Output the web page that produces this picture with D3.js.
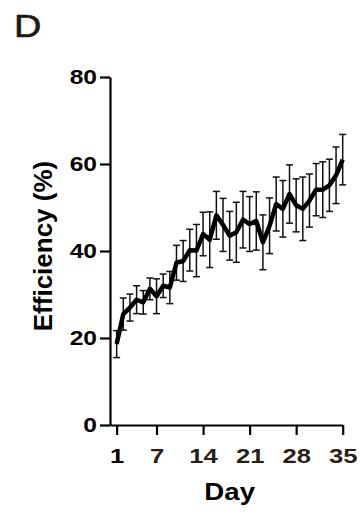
<!DOCTYPE html>
<html>
<head>
<meta charset="utf-8">
<script src="https://cdn.jsdelivr.net/npm/d3@7"></script>
<style>
  html, body { margin: 0; padding: 0; background: #fff; }
  svg { display: block; }
  text { font-family: "Liberation Sans", Arial, sans-serif; }
</style>
</head>
<body>
<script>
const days = d3.range(1, 36);
const efficiencyMean = [18.6, 25.5, 27.0, 28.8, 28.2, 31.3, 29.6, 32.0, 31.6, 37.3,
  37.7, 40.2, 40.1, 43.9, 42.6, 48.2, 46.0, 43.5, 44.3, 47.2,
  46.2, 46.9, 42.0, 45.8, 50.8, 49.7, 53.1, 50.5, 49.7, 51.6,
  54.1, 54.1, 55.1, 57.4, 61.0];
const efficiencyErr = [3.1, 3.7, 3.1, 3.2, 2.7, 2.5, 4.0, 2.7, 3.7, 4.0,
  4.7, 4.8, 6.0, 5.0, 6.4, 5.5, 6.1, 5.6, 6.9, 6.5,
  6.3, 6.7, 6.3, 6.4, 6.2, 6.5, 6.7, 6.1, 7.3, 6.1,
  6.0, 6.4, 6.0, 6.5, 5.8];
const xTicks = [1, 7, 14, 21, 28, 35];
const yTicks = [0, 20, 40, 60, 80];
const panelLabel = "D";
const xTitle = "Day";
const yTitle = "Efficiency (%)";

const W = 361, H = 512;
const svg = d3.select("body").append("svg").attr("width", W).attr("height", H);

const x = d3.scaleLinear().domain([0, 35]).range([110, 342.7]);
const y = d3.scaleLinear().domain([0, 80]).range([425, 77]);

const data = days.map((d, i) => ({ day: d, mean: efficiencyMean[i], err: efficiencyErr[i] }));

// Axes
const yAxis = svg.append("g").attr("transform", `translate(${x(0)},0)`)
  .call(d3.axisLeft(y).tickValues(yTicks).tickSize(10).tickPadding(3).tickSizeOuter(0));
const xAxis = svg.append("g").attr("transform", `translate(0,${y(0)})`)
  .call(d3.axisBottom(x).tickValues(xTicks).tickSize(10).tickPadding(4).tickSizeOuter(0));

[xAxis, yAxis].forEach(g => {
  g.select(".domain").attr("stroke", "#000").attr("stroke-width", 2.2);
  g.selectAll(".tick line").attr("stroke", "#000").attr("stroke-width", 2.2);
  g.selectAll("text").attr("fill", "#000").attr("font-size", 20.5).attr("font-weight", "bold")
    .attr("font-family", "'Liberation Sans', Arial, sans-serif");
});
// horizontally widen tick labels like the reference
yAxis.selectAll(".tick text").each(function() {
  const t = d3.select(this);
  const xx = +t.attr("x");
  t.attr("x", null).attr("transform", `translate(${xx},0) scale(1.2,1)`);
});
xAxis.selectAll(".tick text").each(function() {
  const t = d3.select(this);
  const yy = +t.attr("y");
  t.attr("y", null).attr("dy", null)
   .attr("transform", `translate(0,${yy + 24}) scale(1.25,1)`);
});
xAxis.selectAll(".tick text").attr("fill", (d) => d === 1 ? "#000" : "#2a1e18");

// Error bars
const eb = svg.append("g").attr("stroke", "#111").attr("stroke-width", 1.5).attr("fill", "none");
const cap = 3.5;
data.forEach(d => {
  const cx = x(d.day), top = y(d.mean + d.err), bot = y(d.mean - d.err);
  eb.append("line").attr("x1", cx).attr("x2", cx).attr("y1", top).attr("y2", bot);
  eb.append("line").attr("x1", cx - cap).attr("x2", cx + cap).attr("y1", top).attr("y2", top);
  eb.append("line").attr("x1", cx - cap).attr("x2", cx + cap).attr("y1", bot).attr("y2", bot);
});

// Mean line
svg.append("path").datum(data)
  .attr("fill", "none").attr("stroke", "#000").attr("stroke-width", 4.5)
  .attr("stroke-linejoin", "round").attr("stroke-linecap", "butt")
  .attr("d", d3.line().x(d => x(d.day)).y(d => y(d.mean)));

// Titles
svg.append("text")
  .attr("transform", `translate(${(x(1) + x(35)) / 2},500) scale(1.15,1)`)
  .attr("text-anchor", "middle").attr("font-size", 24).attr("font-weight", "bold").attr("fill", "#000")
  .text(xTitle);

svg.append("text")
  .attr("transform", "translate(52,246) rotate(-90)")
  .attr("text-anchor", "middle").attr("font-size", 26).attr("font-weight", "bold").attr("fill", "#000")
  .text(yTitle);

svg.append("text")
  .attr("transform", "translate(14,37) scale(1.22,1)")
  .attr("font-size", 31).attr("fill", "#231815").attr("stroke", "#231815").attr("stroke-width", 0.6)
  .text(panelLabel);
</script>
</body>
</html>
